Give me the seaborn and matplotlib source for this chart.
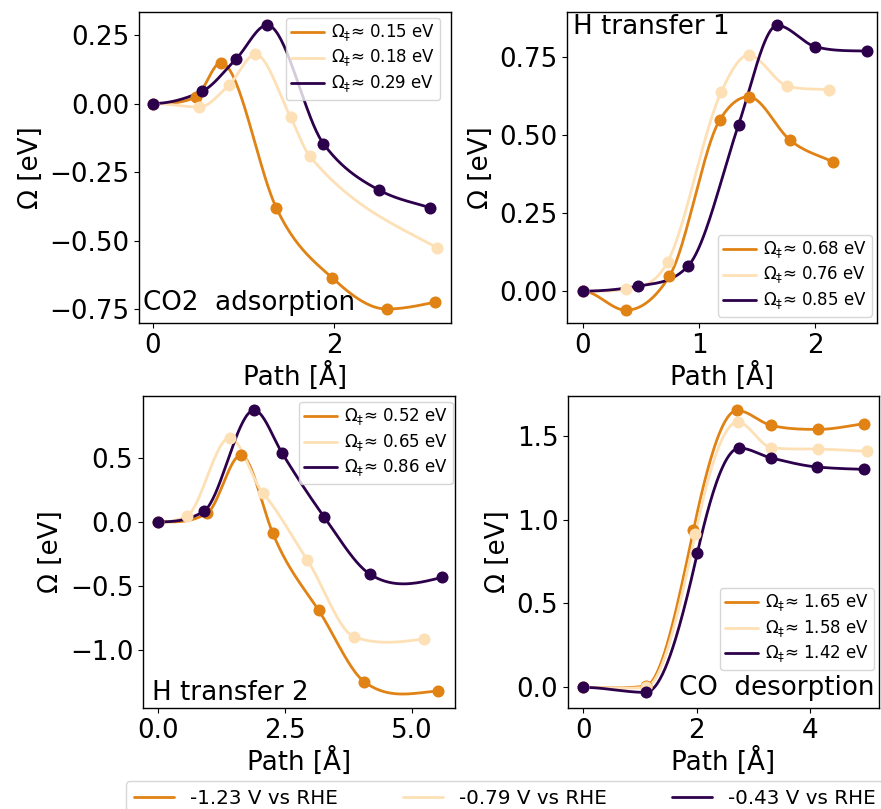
import numpy as np
import pandas as pd
import matplotlib
matplotlib.use("Agg")
import matplotlib.pyplot as plt
from matplotlib.lines import Line2D
from matplotlib.ticker import MultipleLocator
import seaborn as sns

"""Free energy profiles along the reaction path for three potentials"""

# series order: -1.23 V, -0.79 V, -0.43 V vs RHE
potentials = ["-1.23 V vs RHE", "-0.79 V vs RHE", "-0.43 V vs RHE"]
colors = ["#e08214", "#fee0b6", "#2d004b"]

# CO2 adsorption (path, energy, tangent slope dOmega/dpath at each image)
co2_ads_path = [
    [0.0, 0.47, 0.75, 1.36, 1.98, 2.58, 3.11],
    [0.0, 0.51, 0.84, 1.13, 1.52, 1.73, 3.14],
    [0.0, 0.54, 0.92, 1.26, 1.88, 2.49, 3.06],
]
co2_ads_omega = [
    [0.0, 0.023, 0.149, -0.38, -0.637, -0.75, -0.725],
    [0.0, -0.013, 0.068, 0.179, -0.051, -0.192, -0.527],
    [0.0, 0.044, 0.164, 0.286, -0.146, -0.315, -0.38],
]
co2_ads_slope = [
    [0.0, 0.15, 0.0, -0.7, -0.3, 0.0, 0.07],
    [0.0, 0.0, 0.3, 0.0, -0.65, -0.4, -0.18],
    [0.0, 0.15, 0.33, 0.0, -0.45, -0.18, -0.1],
]
co2_ads_barrier = [0.15, 0.18, 0.29]

# H transfer 1
h1_path = [
    [0.0, 0.37, 0.745, 1.18, 1.425, 1.785, 2.15],
    [0.0, 0.37, 0.73, 1.19, 1.425, 1.76, 2.115],
    [0.0, 0.475, 0.907, 1.34, 1.672, 2.0, 2.447],
]
h1_omega = [
    [0.0, -0.061, 0.048, 0.549, 0.622, 0.482, 0.414],
    [0.0, 0.007, 0.094, 0.637, 0.755, 0.656, 0.645],
    [0.0, 0.016, 0.081, 0.533, 0.85, 0.782, 0.768],
]
h1_slope = [
    [0.0, 0.0, 0.6, 0.6, 0.0, -0.3, -0.17],
    [0.0, 0.08, 0.7, 0.8, 0.0, -0.1, -0.02],
    [0.0, 0.07, 0.4, 1.1, 0.0, -0.1, -0.01],
]
h1_barrier = [0.68, 0.76, 0.85]

# H transfer 2
h2_path = [
    [0.0, 0.97, 1.63, 2.26, 3.16, 4.06, 5.52],
    [0.0, 0.56, 1.41, 2.07, 2.94, 3.86, 5.23],
    [0.0, 0.9, 1.89, 2.44, 3.27, 4.18, 5.59],
]
h2_omega = [
    [0.0, 0.07, 0.519, -0.09, -0.687, -1.244, -1.316],
    [0.0, 0.044, 0.656, 0.221, -0.298, -0.894, -0.912],
    [0.0, 0.083, 0.869, 0.537, 0.039, -0.409, -0.432],
]
h2_slope = [
    [0.0, 0.25, 0.0, -0.95, -0.6, -0.3, 0.03],
    [0.0, 0.2, 0.0, -0.45, -0.6, -0.15, 0.05],
    [0.0, 0.25, 0.0, -0.65, -0.55, -0.25, 0.1],
]
h2_barrier = [0.52, 0.65, 0.86]

# CO desorption
co_des_path = [
    [0.0, 1.1, 1.94, 2.71, 3.31, 4.13, 4.94],
    [0.0, 1.1, 1.97, 2.72, 3.31, 4.13, 5.0],
    [0.0, 1.1, 2.01, 2.75, 3.31, 4.12, 4.94],
]
co_des_omega = [
    [0.0, 0.008, 0.936, 1.65, 1.561, 1.537, 1.571],
    [0.0, 0.0, 0.911, 1.581, 1.429, 1.42, 1.406],
    [0.0, -0.03, 0.801, 1.426, 1.367, 1.313, 1.299],
]
co_des_slope = [
    [0.0, 0.05, 1.6, 0.0, -0.08, 0.0, 0.05],
    [0.0, 0.03, 1.6, 0.0, -0.05, -0.01, -0.02],
    [0.0, 0.0, 1.5, 0.0, -0.08, -0.03, -0.01],
]
co_des_barrier = [1.65, 1.58, 1.42]


def hermite_curve(x, y, m, per_seg=40):
    """piecewise cubic hermite through the images using the tangent slopes"""
    x = np.asarray(x, float)
    y = np.asarray(y, float)
    m = np.asarray(m, float)
    h = np.diff(x)
    xs_all, ys_all = [], []
    for i in range(len(x) - 1):
        t = np.linspace(0, 1, per_seg, endpoint=(i == len(x) - 2))
        h00 = 2 * t**3 - 3 * t**2 + 1
        h10 = t**3 - 2 * t**2 + t
        h01 = -2 * t**3 + 3 * t**2
        h11 = t**3 - t**2
        xs_all.append(x[i] + t * h[i])
        ys_all.append(h00 * y[i] + h10 * h[i] * m[i] + h01 * y[i + 1] + h11 * h[i] * m[i + 1])
    return np.concatenate(xs_all), np.concatenate(ys_all)


sns.set_style("ticks")
plt.rcParams["font.family"] = ["DejaVu Sans"]
plt.rcParams["text.color"] = "black"
plt.rcParams["axes.labelcolor"] = "black"
plt.rcParams["xtick.color"] = "black"
plt.rcParams["ytick.color"] = "black"
FS = 18.8

fig = plt.figure(figsize=(8.81, 8.09), dpi=100)
W, H = 881, 809


def add_axes(left, top, right, bottom):
    return fig.add_axes([left / W, 1 - bottom / H, (right - left) / W, (bottom - top) / H])


panels = [
    dict(ax=add_axes(139, 12, 451, 323), path=co2_ads_path, omega=co2_ads_omega,
         slope=co2_ads_slope, barrier=co2_ads_barrier,
         xlim=(-0.155, 3.29), ylim=(-0.801, 0.334),
         xstep=2, ystep=0.25, leg_loc="upper right", leg_anchor=(0.965, 0.981),
         text="CO2  adsorption", tx=0.014, ty=0.022, ha="left", va="bottom"),
    dict(ax=add_axes(567, 12, 877, 323), path=h1_path, omega=h1_omega,
         slope=h1_slope, barrier=h1_barrier,
         xlim=(-0.136, 2.53), ylim=(-0.102, 0.893),
         xstep=1, ystep=0.25, leg_loc="lower right", leg_anchor=(0.983, 0.02),
         text="H transfer 1", tx=0.018, ty=0.994, ha="left", va="top"),
    dict(ax=add_axes(143, 396, 455, 708), path=h2_path, omega=h2_omega,
         slope=h2_slope, barrier=h2_barrier,
         xlim=(-0.3, 5.85), ylim=(-1.449, 0.98),
         xstep=2.5, ystep=0.5, leg_loc="upper right", leg_anchor=(0.993, 0.981),
         text="H transfer 2", tx=0.03, ty=0.006, ha="left", va="bottom"),
    dict(ax=add_axes(568, 396, 879, 708), path=co_des_path, omega=co_des_omega,
         slope=co_des_slope, barrier=co_des_barrier,
         xlim=(-0.27, 5.21), ylim=(-0.123, 1.736),
         xstep=2, ystep=0.5, leg_loc="lower right", leg_anchor=(0.984, 0.122),
         text="CO  desorption", tx=0.987, ty=0.022, ha="right", va="bottom"),
]

for p in panels:
    ax = p["ax"]
    for k in range(3):
        xs, ys = hermite_curve(p["path"][k], p["omega"][k], p["slope"][k])
        curve = pd.DataFrame({"Path": xs, "Omega": ys})
        sns.lineplot(data=curve, x="Path", y="Omega", color=colors[k], lw=2,
                     sort=False, ax=ax,
                     label=r"$\Omega_{\ddag}$" + f"≈ {p['barrier'][k]:.2f} eV")
        pts = pd.DataFrame({"Path": p["path"][k], "Omega": p["omega"][k]})
        sns.scatterplot(data=pts, x="Path", y="Omega", color=colors[k], s=75,
                        linewidth=0, ax=ax, legend=False, zorder=3)
    ax.set_xlim(*p["xlim"])
    ax.set_ylim(*p["ylim"])
    ax.xaxis.set_major_locator(MultipleLocator(p["xstep"]))
    ax.yaxis.set_major_locator(MultipleLocator(p["ystep"]))
    ax.tick_params(labelsize=FS, colors="black")
    for s in ax.spines.values():
        s.set_color("black")
        s.set_linewidth(1.0)
    ax.set_xlabel("Path [Å]", fontsize=FS, labelpad=2)
    ax.set_ylabel("Ω [eV]", fontsize=FS, labelpad=4)
    ax.legend(loc=p["leg_loc"], bbox_to_anchor=p["leg_anchor"], borderaxespad=0,
              fontsize=12, framealpha=0.8, borderpad=0.3, labelspacing=0.25,
              handletextpad=0.4)
    ax.text(p["tx"], p["ty"], p["text"], transform=ax.transAxes, fontsize=FS,
            ha=p["ha"], va=p["va"])

handles = [Line2D([], [], color=c, lw=2) for c in colors]
fig.legend(handles, potentials, loc="upper left", ncol=3,
           bbox_to_anchor=(126 / W, 1 - 781 / H), borderaxespad=0,
           fontsize=14.3, columnspacing=3.3, framealpha=0.8)

fig.savefig("out.png", dpi=100)
